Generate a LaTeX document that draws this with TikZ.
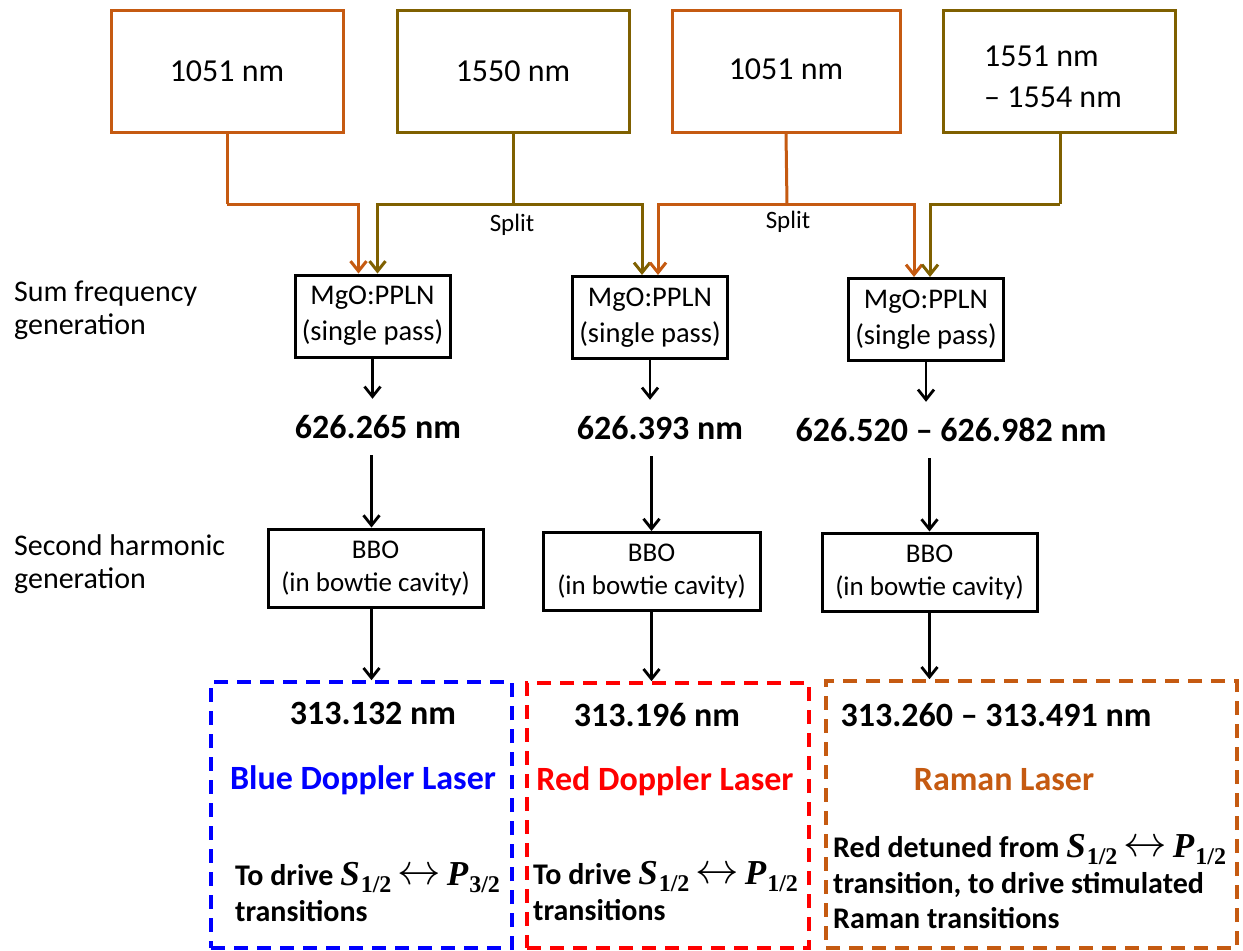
\RequirePackage{fix-cm}
\documentclass[tikz,border=0pt]{standalone}
\usepackage{fontspec}
\setmainfont{Carlito}
\newfontfamily\serif{Liberation Serif}
\usetikzlibrary{arrows.meta,calc}
\definecolor{orng}{RGB}{197,90,17}
\definecolor{olv}{RGB}{127,96,0}
\newcommand{\lvl}[2]{{\serif\bfseries\itshape\fontsize{35}{35}\selectfont #1}\kern1pt\raisebox{-7pt}{\serif\bfseries\fontsize{24}{24}\selectfont #2}}
\newcommand{\lra}{\kern6pt\raisebox{1pt}{\scalebox{1.45}{$\leftrightarrow$}}\kern6pt}
\begin{document}
\begin{tikzpicture}[x=1pt,y=-1pt,
  topbox/.style={draw, line width=3pt, inner sep=0pt, minimum width=232pt, minimum height=122pt, font=\fontsize{32}{39}\selectfont},
  crystal/.style={draw=black, line width=3pt, inner sep=0pt, align=center, minimum width=155pt, minimum height=82pt, font=\fontsize{28.5}{36}\selectfont},
  bbo/.style={draw=black, line width=3pt, inner sep=0pt, align=center, minimum width=215pt, minimum height=78pt, font=\fontsize{27}{33}\selectfont},
  wave/.style={inner sep=0pt, minimum height=56pt, font=\fontsize{34}{40}\selectfont\bfseries},
  lbl/.style={inner sep=0pt, align=left, anchor=north west, font=\fontsize{30}{33}\selectfont},
  splitlbl/.style={inner sep=0pt, font=\fontsize{25}{29}\selectfont},
  dbox/.style={draw, line width=3.6pt, dash pattern=on 14pt off 9pt, inner sep=0pt},
  desc/.style={inner sep=0pt, align=left, anchor=west, font=\fontsize{30}{35.5}\selectfont\bfseries},
  laser/.style={inner sep=0pt, font=\fontsize{34}{40}\selectfont\bfseries},
  beam/.style={line width=3pt, -{Straight Barb[length=10pt,width=16pt]}},
  seg/.style={line width=3pt},
  blk/.style={line width=2.8pt, black, -{Straight Barb[length=10pt,width=16pt]}}
]
\useasboundingbox (0,0) rectangle (1243,951);
% top laser boxes
\node[topbox, draw=orng] (t1) at (227,71) {1051 nm};
\node[topbox, draw=olv] (t2) at (513,71) {1550 nm};
\node[topbox, draw=orng, minimum width=228pt] (t3) at (786,71) {\raisebox{3pt}{1051 nm}};
\node[topbox, draw=olv] (t4) at (1059,71) {};
\node[inner sep=0pt, align=left, font=\fontsize{32}{41}\selectfont] (t4txt) at (1053,77) {1551 nm\\– 1554 nm};
% left labels
\node[lbl] (sfg) at (14,281) {Sum frequency\\generation};
\node[lbl] (shg) at (14,534) {Second harmonic\\generation};
% crystals
\node[crystal] (mA) at (372.5,316) {MgO:PPLN\\(single pass)};
\node[crystal] (mB) at (650,317.5) {MgO:PPLN\\(single pass)};
\node[crystal] (mC) at (926,319.5) {MgO:PPLN\\(single pass)};
% split points
\coordinate (s1) at (227,204);
\coordinate (s2) at (513,204);
\coordinate (s3) at (787,204);
\coordinate (s4) at (1060,204);
\node[splitlbl] (sp1) at (512,225) {Split};
\node[splitlbl] (sp2) at (788,222) {Split};
% beams
\draw[seg, orng] (t1.south) -- (s1);
\draw[beam, orng] (s1) -| ([xshift=-14pt]mA.north);
\draw[seg, olv] (t2.south) -- (s2);
\draw[beam, olv] (s2) -| ([xshift=5pt]mA.north);
\draw[beam, olv] (s2) -| ([xshift=-8pt]mB.north);
\draw[seg, orng] (t3.south) -- (s3);
\draw[beam, orng] (s3) -| ([xshift=8pt]mB.north);
\draw[beam, orng] (s3) -| ([xshift=-12pt]mC.north);
\draw[seg, olv] (t4.south -| s4) -- (s4);
\draw[beam, olv] (s4) -| ([xshift=4pt]mC.north);
% SFG outputs
\node[wave] (w1) at (378,427) {626.265 nm};
\node[wave] (w2) at (660,428) {626.393 nm};
\node[wave] (w3) at (951,430) {626.520 – 626.982 nm};
\draw[blk] (mA.south) -- (mA.south |- w1.north);
\draw[blk] (mB.south) -- (mB.south |- w2.north);
\draw[blk] (mC.south) -- (mC.south |- w3.north);
% BBO
\node[bbo] (bA) at (375.5,568) {BBO\\(in bowtie cavity)};
\node[bbo, minimum width=217pt] (bB) at (651.5,571.5) {BBO\\(in bowtie cavity)};
\node[bbo] (bC) at (929.5,572) {BBO\\(in bowtie cavity)};
\draw[blk] ([xshift=-4pt]bA.north |- w1.south) -- ([xshift=-4pt]bA.north);
\draw[blk] (bB.north |- w2.south) -- (bB.north);
\draw[blk] (bC.north |- w3.south) -- (bC.north);
% output boxes
\node[dbox, draw=blue, minimum width=301pt, minimum height=266pt] (dA) at (361.5,815) {};
\node[dbox, draw=red, minimum width=282pt, minimum height=265pt] (dB) at (668,815.5) {};
\node[dbox, draw=orng, minimum width=411pt, minimum height=267pt] (dC) at (1031.5,814.5) {};
\draw[blk] ([xshift=-4pt]bA.south) -- ([xshift=-4pt]bA.south |- dA.north);
\draw[blk] (bB.south) -- (bB.south |- dB.north);
\draw[blk] (bC.south) -- (bC.south |- dC.north);
% output texts
\node[laser] (oA) at (373,713) {313.132 nm};
\node[laser] (oB) at (657,715) {313.196 nm};
\node[laser] (oC) at (996,715) {313.260 – 313.491 nm};
\node[laser, text=blue] (nA) at (363,780) {Blue Doppler Laser};
\node[laser, text=red] (nB) at (665,781) {Red Doppler Laser};
\node[laser, text=orng] (nC) at (1004,780) {Raman Laser};
\node[desc] (xA) at (235,892) {To drive \lvl{S}{1/2}\lra\lvl{P}{3/2}\\transitions};
\node[desc] (xB) at (533,891) {To drive \lvl{S}{1/2}\lra\lvl{P}{1/2}\\transitions};
\node[desc] (xC) at (833,882) {Red detuned from \lvl{S}{1/2}\lra\lvl{P}{1/2}\\transition, to drive stimulated\\Raman transitions};
\end{tikzpicture}
\end{document}
